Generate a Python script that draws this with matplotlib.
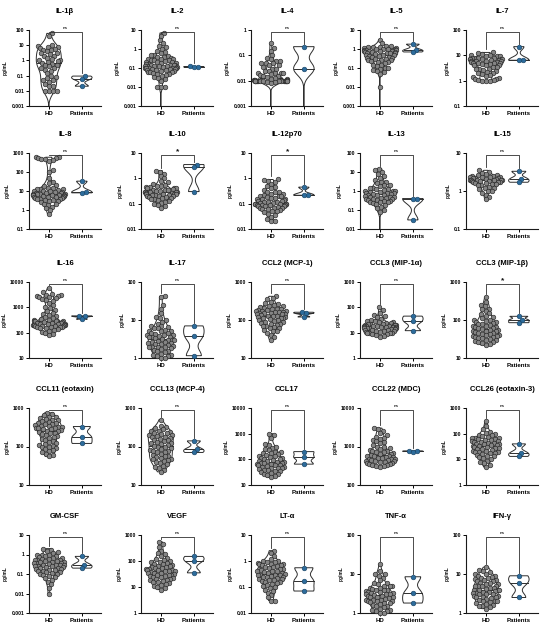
import numpy as np
import matplotlib
matplotlib.use('Agg')
import matplotlib.pyplot as plt
from matplotlib.ticker import NullLocator

# ---------------- data (pg/mL); 0 = below detection (not drawn on log axis) -------------
il1b_hd = [60, 40, 10, 9, 8, 8, 7, 6, 5, 5, 4, 3, 3, 2.5, 2, 2, 1.5, 1.2, 1, 1, 0.9, 0.8, 0.7, 0.6,
           0.5, 0.5, 0.4, 0.3, 0.3, 0.25, 0.2, 0.15, 0.1, 0.08, 0.07, 0.05, 0.05, 0.04, 0.03, 0.02,
           0.02, 0.01, 0.01, 0.01, 0.01, 0]
il1b_pt = [0.093, 0.06, 0.02]
il2_hd = [7, 5, 3, 2, 1.5, 1.2, 1, 0.8, 0.7, 0.6, 0.5, 0.5, 0.45, 0.4, 0.4, 0.35, 0.3, 0.3, 0.3, 0.28,
          0.25, 0.25, 0.22, 0.2, 0.2, 0.2, 0.19, 0.18, 0.17, 0.16, 0.15, 0.15, 0.15, 0.14, 0.13, 0.13,
          0.12, 0.12, 0.12, 0.11, 0.11, 0.1, 0.1, 0.1, 0.1, 0.1, 0.095, 0.09, 0.09, 0.085, 0.08, 0.08,
          0.075, 0.07, 0.07, 0.065, 0.06, 0.06, 0.055, 0.05, 0.05, 0.045, 0.04, 0.035, 0.03, 0.025,
          0.02, 0.01, 0.01, 0.01, 0]
il2_pt = [0.12, 0.115, 0.11]
il4_hd = [0.3, 0.2, 0.15, 0.1, 0.08, 0.07, 0.06, 0.06, 0.05, 0.05, 0.05, 0.04, 0.04, 0.035, 0.03, 0.03,
          0.025, 0.025, 0.02, 0.02, 0.02, 0.02, 0.018, 0.016, 0.015, 0.015, 0.014, 0.013, 0.012, 0.012,
          0.011, 0.011, 0.011, 0.0105, 0.0105, 0.01, 0.01, 0.01, 0.01, 0.01, 0.01, 0.01, 0.01, 0.01,
          0.01, 0.01, 0.01, 0.0098, 0.0097, 0.0095, 0.0095, 0.009, 0.0085, 0.008, 0]
il4_pt = [0.22, 0.03, 0]
il5_hd = [3, 2, 1.5, 1.4, 1.3, 1.2, 1.2, 1.1, 1.1, 1, 1, 1, 0.95, 0.9, 0.9, 0.9, 0.85, 0.8, 0.8, 0.8,
          0.75, 0.7, 0.7, 0.7, 0.65, 0.6, 0.6, 0.6, 0.55, 0.5, 0.5, 0.5, 0.45, 0.45, 0.4, 0.4, 0.35,
          0.35, 0.3, 0.3, 0.28, 0.25, 0.25, 0.22, 0.2, 0.2, 0.18, 0.15, 0.15, 0.12, 0.1, 0.1, 0.09,
          0.08, 0.07, 0.06, 0.05, 0.01, 0]
il5_pt = [1.8, 0.9, 0.7]
il7_hd = [13, 12, 11, 10, 10, 9, 9, 9, 8, 8, 8, 8, 7, 7, 7, 7, 7, 6.5, 6.5, 6, 6, 6, 6, 5.5, 5.5, 5, 5,
          5, 5, 4.5, 4.5, 4, 4, 4, 3.5, 3.5, 3, 3, 3, 2.7, 2.5, 2.2, 2, 2, 1.8, 1.6, 1.5, 1.4, 1.3,
          1.2, 1.2, 1.1, 1.1, 1, 1, 1]
il7_pt = [22, 6.5, 6.4]
il8_hd = [600, 600, 550, 550, 500, 500, 450, 400, 120, 100, 50, 30, 25, 20, 18, 15, 15, 13, 12, 12, 11,
          10, 10, 10, 9, 9, 8, 8, 8, 7, 7, 7, 7, 6.5, 6, 6, 6, 6, 5.5, 5.5, 5, 5, 5, 5, 4.5, 4.5, 4, 4,
          4, 3.5, 3.5, 3, 3, 2.5, 2, 2, 1.8, 1.5, 1.2, 1, 0.6]
il8_pt = [33, 9, 8]
il10_hd = [2, 1.8, 1.5, 1.2, 1, 0.8, 0.7, 0.6, 0.55, 0.5, 0.5, 0.45, 0.45, 0.4, 0.4, 0.4, 0.38, 0.35,
           0.35, 0.35, 0.33, 0.32, 0.3, 0.3, 0.3, 0.3, 0.28, 0.28, 0.27, 0.26, 0.25, 0.25, 0.25, 0.24,
           0.23, 0.22, 0.22, 0.21, 0.2, 0.2, 0.19, 0.18, 0.17, 0.16, 0.15, 0.15, 0.14, 0.13, 0.12,
           0.11, 0.1, 0.09, 0.08, 0.07]
il10_pt = [3.5, 2.7, 0.3]
il12_hd = [0.9, 0.85, 0.8, 0.7, 0.6, 0.5, 0.45, 0.4, 0.35, 0.3, 0.3, 0.28, 0.25, 0.25, 0.22, 0.2, 0.2,
           0.2, 0.18, 0.17, 0.16, 0.15, 0.15, 0.15, 0.14, 0.13, 0.13, 0.12, 0.12, 0.12, 0.11, 0.11,
           0.1, 0.1, 0.1, 0.1, 0.1, 0.095, 0.09, 0.09, 0.09, 0.085, 0.08, 0.08, 0.08, 0.075, 0.07,
           0.07, 0.065, 0.06, 0.06, 0.055, 0.05, 0.05, 0.045, 0.04, 0.035, 0.03, 0.025, 0.02, 0.02]
il12_pt = [0.45, 0.22, 0.215]
il13_hd = [15, 12, 10, 8, 6, 5, 4, 3, 3, 2.5, 2, 2, 1.8, 1.5, 1.5, 1.3, 1.2, 1.1, 1, 1, 1, 0.9, 0.9,
           0.8, 0.8, 0.8, 0.7, 0.7, 0.65, 0.6, 0.6, 0.55, 0.5, 0.5, 0.5, 0.45, 0.45, 0.4, 0.4, 0.38,
           0.35, 0.35, 0.3, 0.3, 0.28, 0.25, 0.25, 0.22, 0.2, 0.18, 0.15, 0.12, 0.1, 0.08, 0]
il13_pt = [0.4, 0.38, 0.03]
il15_hd = [3.5, 3.2, 3, 2.8, 2.7, 2.6, 2.5, 2.5, 2.4, 2.4, 2.3, 2.3, 2.2, 2.2, 2.2, 2.1, 2.1, 2, 2, 2,
           2, 1.95, 1.9, 1.9, 1.85, 1.8, 1.8, 1.75, 1.7, 1.7, 1.6, 1.6, 1.5, 1.5, 1.4, 1.4, 1.3, 1.2,
           1.2, 1.1, 1, 1, 0.9, 0.8, 0.7, 0.6]
il15_pt = [3.3, 2.1, 1.7]
il16_hd = [6000, 4000, 3500, 3000, 3000, 2800, 2700, 2500, 2500, 2300, 2200, 2000, 1800, 1500, 1200,
           1000, 900, 800, 700, 600, 550, 500, 450, 400, 380, 350, 330, 320, 300, 300, 290, 280, 270,
           260, 250, 250, 240, 230, 230, 220, 220, 210, 210, 200, 200, 200, 190, 190, 180, 180, 170,
           170, 160, 160, 150, 150, 140, 130, 120, 110, 100, 90, 80]
il16_pt = [460, 440, 340]
il17_hd = [42, 40, 25, 20, 15, 12, 11, 10, 9, 8, 7, 7, 6.5, 6, 6, 5.5, 5, 5, 5, 4.5, 4.5, 4.3, 4, 4, 4,
           3.8, 3.6, 3.5, 3.5, 3.3, 3.2, 3, 3, 3, 2.8, 2.7, 2.6, 2.5, 2.5, 2.4, 2.3, 2.2, 2.1, 2, 2, 2,
           1.9, 1.8, 1.7, 1.6, 1.5, 1.5, 1.4, 1.3, 1.2, 1.2, 1.1, 1.1, 1, 1]
il17_pt = [7, 3.7, 1.15]
ccl2_hd = [420, 380, 350, 300, 280, 260, 250, 240, 230, 220, 210, 200, 200, 190, 180, 180, 175, 170,
           170, 165, 160, 160, 155, 150, 150, 145, 140, 140, 135, 130, 130, 125, 120, 120, 115, 110,
           110, 105, 100, 100, 95, 90, 90, 85, 80, 80, 75, 70, 70, 65, 60, 60, 55, 50, 50, 45, 40, 35, 30]
ccl2_pt = [160, 150, 120]
ccl3a_hd = [100, 80, 60, 50, 45, 40, 35, 32, 30, 28, 27, 26, 25, 24, 23, 22, 22, 21, 20, 20, 20, 19,
            19, 18, 18, 18, 17, 17, 16, 16, 16, 15, 15, 15, 15, 14, 14, 14, 13, 13, 13, 12, 12, 12, 11,
            11, 10, 10, 10, 9.5, 9, 8.5, 8, 7.5, 7]
ccl3a_pt = [45, 28, 12]
ccl3b_hd = [400, 300, 250, 230, 200, 190, 170, 150, 140, 130, 120, 110, 100, 100, 95, 90, 90, 85, 80,
            80, 75, 70, 70, 65, 65, 60, 60, 58, 55, 55, 52, 50, 50, 48, 46, 45, 44, 42, 40, 40, 38, 37,
            36, 35, 34, 33, 32, 30, 30, 28, 27, 26, 25, 24, 22]
ccl3b_pt = [125, 100, 85]
ccl11_hd = [750, 700, 650, 600, 580, 550, 520, 500, 480, 460, 440, 420, 400, 390, 380, 360, 350, 340,
            330, 320, 310, 300, 300, 290, 280, 270, 260, 250, 240, 230, 220, 210, 200, 190, 180, 170,
            160, 150, 140, 130, 120, 115, 110, 105, 100, 95, 90, 85, 80, 75, 70, 65, 60, 55]
ccl11_pt = [330, 180, 120]
ccl13_hd = [500, 350, 320, 300, 280, 260, 250, 240, 230, 220, 210, 200, 195, 190, 180, 175, 170, 160,
            150, 145, 140, 130, 125, 120, 115, 110, 105, 100, 95, 90, 85, 80, 78, 75, 72, 70, 65, 60,
            58, 55, 52, 50, 48, 46, 45, 42, 40, 38, 35, 32, 30, 28, 25, 22]
ccl13_pt = [140, 85, 70]
ccl17_hd = [1000, 900, 700, 400, 350, 300, 280, 250, 230, 200, 190, 180, 170, 160, 150, 140, 130, 120,
            115, 110, 105, 100, 95, 90, 85, 80, 78, 75, 72, 70, 68, 65, 62, 60, 58, 55, 52, 50, 48, 46,
            45, 42, 40, 38, 36, 35, 33, 30, 28, 26, 25, 22, 20]
ccl17_pt = [200, 120, 65]
ccl22_hd = [3000, 2800, 2500, 2200, 2000, 1800, 1700, 1600, 1500, 1400, 1300, 1200, 1100, 1000, 950,
            900, 850, 800, 780, 750, 720, 700, 680, 650, 630, 600, 580, 560, 550, 540, 520, 500, 490,
            480, 470, 460, 450, 440, 430, 420, 410, 400, 390, 380, 370, 360, 350, 340, 330, 320, 310, 300]
ccl22_pt = [770, 750, 740]
ccl26_hd = [300, 200, 150, 120, 110, 100, 90, 85, 80, 75, 70, 68, 65, 62, 60, 58, 55, 52, 50, 48, 46,
            45, 42, 40, 40, 38, 36, 35, 34, 32, 30, 30, 28, 27, 26, 25, 24, 22, 21, 20, 20, 19, 18, 17,
            16, 15, 14, 13, 12, 11, 10, 9, 8, 7, 6, 5]
ccl26_pt = [40, 18, 13]
gmcsf_hd = [2, 1.8, 1.5, 1.3, 1.2, 1, 1, 0.9, 0.85, 0.8, 0.75, 0.7, 0.65, 0.6, 0.6, 0.55, 0.5, 0.5,
            0.48, 0.45, 0.42, 0.4, 0.4, 0.38, 0.35, 0.35, 0.33, 0.3, 0.3, 0.3, 0.28, 0.27, 0.25, 0.25,
            0.24, 0.22, 0.2, 0.2, 0.19, 0.18, 0.17, 0.16, 0.15, 0.14, 0.13, 0.12, 0.11, 0.1, 0.1, 0.09,
            0.08, 0.07, 0.06, 0.05, 0.04, 0.03, 0.02, 0.01]
gmcsf_pt = [0.8, 0.3, 0.2]
vegf_hd = [550, 450, 350, 250, 200, 180, 150, 130, 120, 110, 100, 95, 90, 85, 80, 75, 70, 65, 62, 60,
           58, 55, 52, 50, 48, 46, 45, 44, 42, 40, 40, 38, 36, 35, 34, 32, 30, 30, 28, 27, 26, 25, 24,
           22, 21, 20, 19, 18, 17, 16, 15, 14, 13, 12, 11, 10, 9, 8]
vegf_pt = [150, 100, 35]
lta_hd = [2.5, 2, 1.5, 1.2, 1, 1, 0.95, 0.9, 0.85, 0.8, 0.8, 0.75, 0.7, 0.7, 0.65, 0.6, 0.6, 0.55, 0.5,
          0.5, 0.48, 0.45, 0.42, 0.4, 0.4, 0.38, 0.35, 0.35, 0.33, 0.3, 0.3, 0.3, 0.28, 0.26, 0.25,
          0.25, 0.24, 0.22, 0.2, 0.2, 0.19, 0.18, 0.17, 0.16, 0.15, 0.14, 0.13, 0.12, 0.11, 0.1, 0.09,
          0.08, 0.07, 0.06, 0.05, 0.04, 0.03, 0.03]
lta_pt = [0.55, 0.17, 0.07]
tnfa_hd = [18, 12, 10, 10, 9, 8, 7, 6, 6, 5.5, 5, 5, 4.8, 4.5, 4.5, 4.2, 4, 4, 3.8, 3.6, 3.5, 3.5, 3.3,
           3.2, 3, 3, 3, 2.9, 2.8, 2.7, 2.6, 2.5, 2.5, 2.4, 2.3, 2.2, 2.2, 2.1, 2, 2, 2, 1.9, 1.8, 1.8,
           1.7, 1.6, 1.5, 1.5, 1.4, 1.3, 1.2, 1.2, 1.1, 1.1, 1, 1]
tnfa_pt = [8.5, 3.2, 1.8]
ifng_hd = [15, 13, 12, 11, 10, 10, 9, 9, 8.5, 8, 8, 7.5, 7, 7, 6.5, 6.5, 6, 6, 5.5, 5.5, 5, 5, 5, 4.8,
           4.5, 4.5, 4.2, 4, 4, 4, 3.8, 3.6, 3.5, 3.5, 3.3, 3.2, 3, 3, 3, 2.8, 2.7, 2.6, 2.5, 2.5, 2.4,
           2.3, 2.2, 2, 2, 2, 1.9, 1.8, 1.7, 1.6, 1.5, 1.5, 1.4, 1.3]
ifng_pt = [9, 6, 2.5]

titles = ['IL-1β', 'IL-2', 'IL-4', 'IL-5', 'IL-7',
          'IL-8', 'IL-10', 'IL-12p70', 'IL-13', 'IL-15',
          'IL-16', 'IL-17', 'CCL2 (MCP-1)', 'CCL3 (MIP-1α)', 'CCL3 (MIP-1β)',
          'CCL11 (eotaxin)', 'CCL13 (MCP-4)', 'CCL17', 'CCL22 (MDC)', 'CCL26 (eotaxin-3)',
          'GM-CSF', 'VEGF', 'LT-α', 'TNF-α', 'IFN-γ']
hd_sets = [il1b_hd, il2_hd, il4_hd, il5_hd, il7_hd, il8_hd, il10_hd, il12_hd, il13_hd, il15_hd,
           il16_hd, il17_hd, ccl2_hd, ccl3a_hd, ccl3b_hd, ccl11_hd, ccl13_hd, ccl17_hd, ccl22_hd,
           ccl26_hd, gmcsf_hd, vegf_hd, lta_hd, tnfa_hd, ifng_hd]
pt_sets = [il1b_pt, il2_pt, il4_pt, il5_pt, il7_pt, il8_pt, il10_pt, il12_pt, il13_pt, il15_pt,
           il16_pt, il17_pt, ccl2_pt, ccl3a_pt, ccl3b_pt, ccl11_pt, ccl13_pt, ccl17_pt, ccl22_pt,
           ccl26_pt, gmcsf_pt, vegf_pt, lta_pt, tnfa_pt, ifng_pt]
# y-axis range as decade exponents (low, high)
y_lo = [-3, -3, -3, -3, -1, -1, -2, -2, -2, -1, 1, 0, 1, 0, 1, 1, 1, 1, 2, 0, -3, 0, -2, 0, 0]
y_hi = [2, 1, 0, 1, 2, 3, 1, 1, 2, 1, 4, 2, 3, 3, 3, 3, 3, 4, 4, 3, 1, 3, 1, 2, 2]
signif = ['ns', 'ns', 'ns', 'ns', 'ns', 'ns', '*', '*', 'ns', 'ns', 'ns', 'ns', 'ns', 'ns', '*',
          'ns', 'ns', 'ns', 'ns', 'ns', 'ns', 'ns', 'ns', 'ns', 'ns']
groups = ['HD', 'Patients']

# ---------------- style ----------------
FONT = ['Liberation Sans', 'DejaVu Sans']
plt.rcParams['font.family'] = FONT
plt.rcParams['font.weight'] = 'bold'
HD_FACE, HD_EDGE = '#858585', '#262626'
PT_FACE, PT_EDGE = '#2d6c9c', '#1a4668'
LINE = '#2e2e2e'

FW, FH = 550, 629
fig = plt.figure(figsize=(FW / 100, FH / 100), dpi=100)
col_x = [29, 141, 251, 360, 466]
row_y = [(30, 106), (153, 229), (282, 358), (408, 485), (535, 613)]
AXW = 72
XL = (-0.6, 1.58)
VW = [0.38, 0.31]     # violin half width (data units) HD, Patients
BWF = [0.8, 0.5]      # bandwidth factor HD, Patients
DPX = 4.3             # swarm spacing in px
MS = 11
WMAX = [16.5, 10.0]   # max swarm half width px (HD, Patients)


def beeswarm(ypx, d):
    xs = np.zeros(len(ypx))
    placed = []
    for i in np.argsort(ypx, kind='stable'):
        y = ypx[i]
        near = [(xj, yj) for (xj, yj) in placed if abs(yj - y) < d]
        cands = [0.0]
        for xj, yj in near:
            dx = np.sqrt(d * d - (yj - y) ** 2)
            cands += [xj + dx, xj - dx]
        cands.sort(key=lambda c: (round(abs(c), 6), -c))
        for c in cands:
            if all((c - xj) ** 2 + (y - yj) ** 2 >= d * d - 1e-6 for xj, yj in near):
                xs[i] = c
                break
        placed.append((xs[i], y))
    return xs


def draw_violin(ax, c, vals, lo, vw, bwf):
    vals = np.asarray(vals, float)
    pos = vals[vals > 0]
    lv = np.log10(pos)
    n = len(lv)
    sd = lv.std(ddof=1) if n > 1 else 0.1
    bw = max(sd * n ** (-0.2) * bwf, 0.02)
    top = lv.max()
    bot = lo if np.any(vals <= 0) else lv.min()
    g = np.linspace(bot, top, 300)
    dens = np.exp(-0.5 * ((g[:, None] - lv[None, :]) / bw) ** 2).sum(1)
    w = dens / dens.max() * vw
    xs = np.concatenate([c - w, (c + w)[::-1]])
    ys = np.concatenate([10 ** g, (10 ** g)[::-1]])
    ax.fill(xs, ys, facecolor='white', edgecolor=LINE, lw=0.7, zorder=2)
    med = np.median(vals)
    if med > 0:
        wm = np.interp(np.log10(med), g, w)
        ax.plot([c - wm, c + wm], [med, med], color=LINE, lw=0.7, zorder=2.5)
    return top


for k in range(25):
    r, cidx = divmod(k, 5)
    yt, yb = row_y[r]
    axh = yb - yt
    ax = fig.add_axes([col_x[cidx] / FW, 1 - yb / FH, AXW / FW, axh / FH])
    lo, hi = y_lo[k], y_hi[k]
    ax.set_yscale('log')
    ax.set_ylim(10.0 ** lo, 10.0 ** hi)
    ax.set_xlim(*XL)
    unit_px = AXW / (XL[1] - XL[0])

    tops = []
    for gi, (vals, face, edge) in enumerate([(hd_sets[k], HD_FACE, HD_EDGE),
                                              (pt_sets[k], PT_FACE, PT_EDGE)]):
        tops.append(draw_violin(ax, gi, vals, lo, VW[gi], BWF[gi]))
        v = np.asarray(vals, float)
        v = v[v > 0]
        ypx = (np.log10(v) - lo) / (hi - lo) * axh
        offpx = beeswarm(ypx, DPX)
        offpx = WMAX[gi] * np.tanh(offpx / WMAX[gi])
        ax.scatter(gi + offpx / unit_px, v, s=MS, facecolor=face, edgecolor=edge,
                   linewidths=0.45, zorder=3, clip_on=False)

    # significance bracket
    fb = 0.97
    ybr = 10 ** (lo + fb * (hi - lo))
    ends = []
    for t in tops:
        f = (t - lo) / (hi - lo) + 3.0 / axh
        f = min(f, fb)
        ends.append(10 ** (lo + f * (hi - lo)))
    ax.plot([0, 0, 1, 1], [ends[0], ybr, ybr, ends[1]], color=LINE, lw=0.6, zorder=4,
            clip_on=False)
    if signif[k] == '*':
        ax.text(0.5, ybr * 10 ** (0.5 / axh * (hi - lo)), '*', ha='center', va='bottom',
                fontsize=6, fontweight='bold', color='#111111')
    else:
        ax.text(0.5, ybr * 10 ** (2.5 / axh * (hi - lo)), 'ns', ha='center', va='bottom',
                fontsize=3.2, color='#333333')

    ax.set_title(titles[k], fontsize=5.5, fontweight='bold', pad=12.5)
    ax.set_yticks([10.0 ** e for e in range(lo, hi + 1)])
    ax.set_yticklabels([(f"{10.0 ** e:.{-e}f}" if e < 0 else str(int(10 ** e)))
                        for e in range(lo, hi + 1)])
    ax.yaxis.set_minor_locator(NullLocator())
    ax.set_xticks([0, 1])
    ax.set_xticklabels(groups)
    ax.tick_params(axis='y', labelsize=3.6, length=2.5, width=0.7, pad=1)
    ax.tick_params(axis='x', labelsize=4.4, length=2, width=0.7, pad=1.5)
    for lab in ax.get_xticklabels() + ax.get_yticklabels():
        lab.set_fontweight('bold')
    ax.set_ylabel('pg/mL', fontsize=3.4, fontweight='bold', labelpad=2.5)
    for s in ('top', 'right'):
        ax.spines[s].set_visible(False)
    for s in ('left', 'bottom'):
        ax.spines[s].set_linewidth(0.8)
        ax.spines[s].set_color('#1a1a1a')

fig.savefig('out.png', dpi=100, facecolor='white')
